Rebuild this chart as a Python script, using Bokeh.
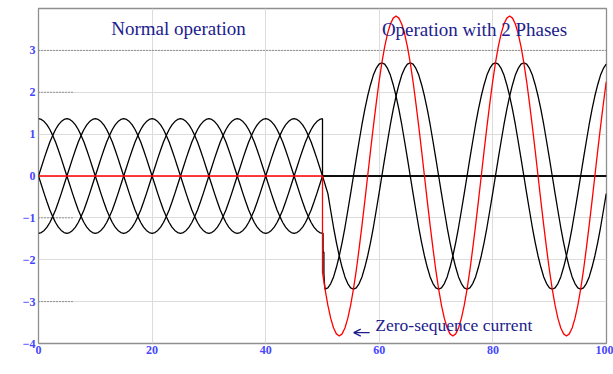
import numpy as np
from bokeh.plotting import figure
from bokeh.models import Label, Arrow, OpenHead, FixedTicker
from bokeh.embed import file_html
from bokeh.resources import INLINE

# ---------------- data ----------------
x_ticks = [0, 20, 40, 60, 80, 100]
y_ticks = [-4, -3, -2, -1, 0, 1, 2, 3, 4]

SAMPLE_STEP_MS = 0.5
PRE_START_MS = 0.0
POST_START_MS = 50.45

# normal operation, 0 .. 50 ms, sampled every 0.5 ms  [kA]
phase_a_pre = [
    1.37, 1.35, 1.30, 1.22, 1.11, 0.97, 0.81, 0.62, 0.42, 0.21,
    0.00, -0.21, -0.42, -0.62, -0.81, -0.97, -1.11, -1.22, -1.30, -1.35,
    -1.37, -1.35, -1.30, -1.22, -1.11, -0.97, -0.81, -0.62, -0.42, -0.21,
    0.00, 0.21, 0.42, 0.62, 0.81, 0.97, 1.11, 1.22, 1.30, 1.35,
    1.37, 1.35, 1.30, 1.22, 1.11, 0.97, 0.81, 0.62, 0.42, 0.21,
    0.00, -0.21, -0.42, -0.62, -0.81, -0.97, -1.11, -1.22, -1.30, -1.35,
    -1.37, -1.35, -1.30, -1.22, -1.11, -0.97, -0.81, -0.62, -0.42, -0.21,
    0.00, 0.21, 0.42, 0.62, 0.81, 0.97, 1.11, 1.22, 1.30, 1.35,
    1.37, 1.35, 1.30, 1.22, 1.11, 0.97, 0.81, 0.62, 0.42, 0.21,
    0.00, -0.21, -0.42, -0.62, -0.81, -0.97, -1.11, -1.22, -1.30, -1.35,
    -1.37,
]
phase_b_pre = [
    0.00, 0.21, 0.42, 0.62, 0.81, 0.97, 1.11, 1.22, 1.30, 1.35,
    1.37, 1.35, 1.30, 1.22, 1.11, 0.97, 0.81, 0.62, 0.42, 0.21,
    0.00, -0.21, -0.42, -0.62, -0.81, -0.97, -1.11, -1.22, -1.30, -1.35,
    -1.37, -1.35, -1.30, -1.22, -1.11, -0.97, -0.81, -0.62, -0.42, -0.21,
    0.00, 0.21, 0.42, 0.62, 0.81, 0.97, 1.11, 1.22, 1.30, 1.35,
    1.37, 1.35, 1.30, 1.22, 1.11, 0.97, 0.81, 0.62, 0.42, 0.21,
    0.00, -0.21, -0.42, -0.62, -0.81, -0.97, -1.11, -1.22, -1.30, -1.35,
    -1.37, -1.35, -1.30, -1.22, -1.11, -0.97, -0.81, -0.62, -0.42, -0.21,
    0.00, 0.21, 0.42, 0.62, 0.81, 0.97, 1.11, 1.22, 1.30, 1.35,
    1.37, 1.35, 1.30, 1.22, 1.11, 0.97, 0.81, 0.62, 0.42, 0.21,
    0.00,
]
phase_c_pre = [
    -1.37, -1.35, -1.30, -1.22, -1.11, -0.97, -0.81, -0.62, -0.42, -0.21,
    0.00, 0.21, 0.42, 0.62, 0.81, 0.97, 1.11, 1.22, 1.30, 1.35,
    1.37, 1.35, 1.30, 1.22, 1.11, 0.97, 0.81, 0.62, 0.42, 0.21,
    0.00, -0.21, -0.42, -0.62, -0.81, -0.97, -1.11, -1.22, -1.30, -1.35,
    -1.37, -1.35, -1.30, -1.22, -1.11, -0.97, -0.81, -0.62, -0.42, -0.21,
    0.00, 0.21, 0.42, 0.62, 0.81, 0.97, 1.11, 1.22, 1.30, 1.35,
    1.37, 1.35, 1.30, 1.22, 1.11, 0.97, 0.81, 0.62, 0.42, 0.21,
    0.00, -0.21, -0.42, -0.62, -0.81, -0.97, -1.11, -1.22, -1.30, -1.35,
    -1.37, -1.35, -1.30, -1.22, -1.11, -0.97, -0.81, -0.62, -0.42, -0.21,
    0.00, 0.21, 0.42, 0.62, 0.81, 0.97, 1.11, 1.22, 1.30, 1.35,
    1.37,
]
phase_d_pre = [
    0.00, -0.21, -0.42, -0.62, -0.81, -0.97, -1.11, -1.22, -1.30, -1.35,
    -1.37, -1.35, -1.30, -1.22, -1.11, -0.97, -0.81, -0.62, -0.42, -0.21,
    0.00, 0.21, 0.42, 0.62, 0.81, 0.97, 1.11, 1.22, 1.30, 1.35,
    1.37, 1.35, 1.30, 1.22, 1.11, 0.97, 0.81, 0.62, 0.42, 0.21,
    0.00, -0.21, -0.42, -0.62, -0.81, -0.97, -1.11, -1.22, -1.30, -1.35,
    -1.37, -1.35, -1.30, -1.22, -1.11, -0.97, -0.81, -0.62, -0.42, -0.21,
    0.00, 0.21, 0.42, 0.62, 0.81, 0.97, 1.11, 1.22, 1.30, 1.35,
    1.37, 1.35, 1.30, 1.22, 1.11, 0.97, 0.81, 0.62, 0.42, 0.21,
    0.00, -0.21, -0.42, -0.62, -0.81, -0.97, -1.11, -1.22, -1.30, -1.35,
    -1.37, -1.35, -1.30, -1.22, -1.11, -0.97, -0.81, -0.62, -0.42, -0.21,
    0.00,
]

# switching transient of phase a at 50 ms
phase_a_step_t = [50.1, 50.1, 50.25, 50.25, 50.35]
phase_a_step = [-1.37, -1.82, -1.82, -2.33, -2.56]

# operation with 2 phases, from 50.45 ms, sampled every 0.5 ms  [kA]
phase_a_post = [
    -2.70, -2.67, -2.57, -2.41, -2.18, -1.91, -1.59, -1.23, -0.83, -0.42,
    0.00, 0.42, 0.83, 1.23, 1.59, 1.91, 2.18, 2.41, 2.57, 2.67,
    2.70, 2.67, 2.57, 2.41, 2.18, 1.91, 1.59, 1.23, 0.83, 0.42,
    0.00, -0.42, -0.83, -1.23, -1.59, -1.91, -2.18, -2.41, -2.57, -2.67,
    -2.70, -2.67, -2.57, -2.41, -2.18, -1.91, -1.59, -1.23, -0.83, -0.42,
    0.00, 0.42, 0.83, 1.23, 1.59, 1.91, 2.18, 2.41, 2.57, 2.67,
    2.70, 2.67, 2.57, 2.41, 2.18, 1.91, 1.59, 1.23, 0.83, 0.42,
    0.00, -0.42, -0.83, -1.23, -1.59, -1.91, -2.18, -2.41, -2.57, -2.67,
    -2.70, -2.67, -2.57, -2.41, -2.18, -1.91, -1.59, -1.23, -0.83, -0.42,
    0.00, 0.42, 0.83, 1.23, 1.59, 1.91, 2.18, 2.41, 2.57, 2.67,
]
# phase b after 50 ms (starts with the second post sample, 50.95 ms)
phase_b_post = [
    -0.42, -0.83, -1.23, -1.59, -1.91, -2.18, -2.41, -2.57, -2.67,
    -2.70, -2.67, -2.57, -2.41, -2.18, -1.91, -1.59, -1.23, -0.83, -0.42,
    0.00, 0.42, 0.83, 1.23, 1.59, 1.91, 2.18, 2.41, 2.57, 2.67,
    2.70, 2.67, 2.57, 2.41, 2.18, 1.91, 1.59, 1.23, 0.83, 0.42,
    0.00, -0.42, -0.83, -1.23, -1.59, -1.91, -2.18, -2.41, -2.57, -2.67,
    -2.70, -2.67, -2.57, -2.41, -2.18, -1.91, -1.59, -1.23, -0.83, -0.42,
    0.00, 0.42, 0.83, 1.23, 1.59, 1.91, 2.18, 2.41, 2.57, 2.67,
    2.70, 2.67, 2.57, 2.41, 2.18, 1.91, 1.59, 1.23, 0.83, 0.42,
    0.00, -0.42, -0.83, -1.23, -1.59, -1.91, -2.18, -2.41, -2.57, -2.67,
    -2.70, -2.67, -2.57, -2.41, -2.18, -1.91, -1.59, -1.23, -0.83, -0.42,
]
# the two other conductors after 50 ms
phase_c_after_t = [50, 100]
phase_c_after = [0.0, 0.0]
phase_d_after_t = [100]
phase_d_after = [0.0]

# zero-sequence current
zero_pre_t = [0, 50, 50]
zero_pre = [0.0, 0.0, -2.30]
zero_post = [
    -2.70, -3.09, -3.40, -3.63, -3.77, -3.82, -3.77, -3.63, -3.40, -3.09,
    -2.70, -2.25, -1.73, -1.18, -0.60, 0.00, 0.60, 1.18, 1.73, 2.25,
    2.70, 3.09, 3.40, 3.63, 3.77, 3.82, 3.77, 3.63, 3.40, 3.09,
    2.70, 2.25, 1.73, 1.18, 0.60, 0.00, -0.60, -1.18, -1.73, -2.25,
    -2.70, -3.09, -3.40, -3.63, -3.77, -3.82, -3.77, -3.63, -3.40, -3.09,
    -2.70, -2.25, -1.73, -1.18, -0.60, 0.00, 0.60, 1.18, 1.73, 2.25,
    2.70, 3.09, 3.40, 3.63, 3.77, 3.82, 3.77, 3.63, 3.40, 3.09,
    2.70, 2.25, 1.73, 1.18, 0.60, 0.00, -0.60, -1.18, -1.73, -2.25,
    -2.70, -3.09, -3.40, -3.63, -3.77, -3.82, -3.77, -3.63, -3.40, -3.09,
    -2.70, -2.25, -1.73, -1.18, -0.60, 0.00, 0.60, 1.18, 1.73, 2.25,
]

# dotted reference lines of the original plot
dotted_levels = [3, 2, -1, -3]
dotted_start = [0, 0, 0, 0]
dotted_end = [100, 6, 6, 6]

# ---------------- assemble ----------------
pre_t = (PRE_START_MS + SAMPLE_STEP_MS * np.arange(len(phase_a_pre))).tolist()
post_t = (POST_START_MS + SAMPLE_STEP_MS * np.arange(len(phase_a_post))).tolist()

series_black = [
    (pre_t + phase_a_step_t + post_t, phase_a_pre + phase_a_step + phase_a_post),
    (pre_t + post_t[1:], phase_b_pre + phase_b_post),
    (pre_t + phase_c_after_t, phase_c_pre + phase_c_after),
    (pre_t + phase_d_after_t, phase_d_pre + phase_d_after),
]
zero_t = zero_pre_t + post_t
zero_v = zero_pre + zero_post

SERIF = "Liberation Serif"
NAVY = "#1c1c8c"
TICK_BLUE = "#4646ff"

p = figure(width=613, height=374, x_range=(0, 100), y_range=(-4, 4),
           output_backend="svg", toolbar_location=None,
           min_border_left=38, min_border_right=7, min_border_top=8,
           min_border_bottom=31, background_fill_color="white",
           border_fill_color="white")
p.outline_line_color = "#8f8f8f"
p.outline_line_width = 1.3

p.xaxis.ticker = FixedTicker(ticks=x_ticks)
p.yaxis.ticker = FixedTicker(ticks=y_ticks)
p.yaxis.major_label_overrides = {4: ""}
for ax in (p.xaxis[0], p.yaxis[0]):
    ax.axis_line_color = None
    ax.major_tick_line_color = None
    ax.minor_tick_line_color = None
    ax.major_tick_out = 0
    ax.major_tick_in = 0
    ax.major_label_text_font = SERIF
    ax.major_label_text_font_style = "bold"
    ax.major_label_text_font_size = "12px"
    ax.major_label_text_color = TICK_BLUE
p.yaxis.major_label_standoff = 3
p.xaxis.major_label_standoff = 2

p.xgrid.ticker = FixedTicker(ticks=x_ticks)
p.ygrid.ticker = FixedTicker(ticks=y_ticks)
p.grid.grid_line_color = "#dcdcdc"
p.grid.grid_line_width = 1

p.segment(x0=dotted_start, y0=dotted_levels, x1=dotted_end, y1=dotted_levels,
          line_color="#444444", line_width=1, line_dash="1 2")

for t, v in series_black:
    p.line(t, v, line_color="black", line_width=1.3)
p.line(zero_t, zero_v, line_color="red", line_width=1.3)

# texts
p.add_layout(Label(x=0, y=4, x_offset=-3, text="4", text_align="right",
                   text_baseline="top", text_font=SERIF, text_font_style="bold",
                   text_font_size="12px", text_color=TICK_BLUE))
p.add_layout(Label(x=24.65, y=3.52, text="Normal operation", text_align="center",
                   text_baseline="middle", text_font=SERIF, text_font_size="19px",
                   text_color=NAVY))
p.add_layout(Label(x=76.76, y=3.50, text="Operation with 2 Phases", text_align="center",
                   text_baseline="middle", text_font=SERIF, text_font_size="19px",
                   text_color=NAVY))
p.add_layout(Label(x=59.3, y=-3.57, text="Zero-sequence current", text_align="left",
                   text_baseline="middle", text_font=SERIF, text_font_size="17.5px",
                   text_color=NAVY))
p.add_layout(Arrow(end=OpenHead(size=7, line_color=NAVY, line_width=1.2),
                   x_start=58.3, y_start=-3.74, x_end=55.5, y_end=-3.74,
                   line_color=NAVY, line_width=1.2))
p.add_layout(Label(x=-4.23, y=2.16, text="Current [kA]", angle=np.pi / 2,
                   text_align="center", text_baseline="middle", text_font=SERIF,
                   text_font_size="17px", text_color="black"))
p.add_layout(Label(x=49.6, y=-4.48, text="Time [ms]", text_align="center",
                   text_baseline="middle", text_font=SERIF, text_font_size="17.5px",
                   text_color="#2f2fe6"))

open("out.html", "w").write(file_html(p, INLINE))
